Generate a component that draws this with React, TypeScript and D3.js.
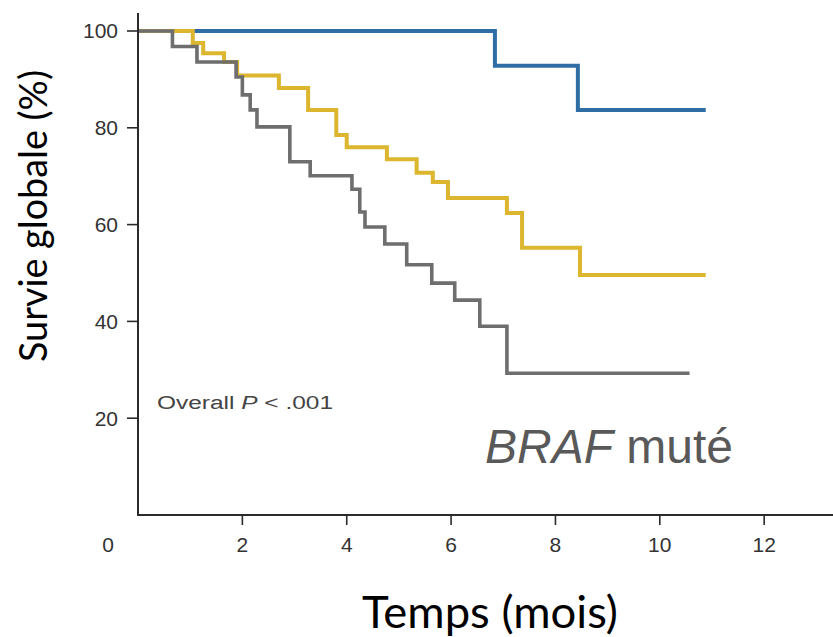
import React from "react";
import * as d3 from "d3";

// ---- data ----
const xTickValues = [2, 4, 6, 8, 10, 12];
const yTickValues = [20, 40, 60, 80, 100];

const blueTimes = [0, 6.84, 8.43, 10.88];
const blueSurvival = [100, 92.8, 83.7, 83.7];

const yellowTimes = [0, 1.05, 1.25, 1.65, 1.9, 2.7, 3.26, 3.8, 4.0, 4.77, 5.34, 5.65, 5.94, 7.07, 7.36, 8.47, 10.88];
const yellowSurvival = [100, 97.5, 95.4, 93.6, 90.8, 88.2, 83.7, 78.5, 76.0, 73.5, 70.7, 68.8, 65.5, 62.4, 55.2, 49.6, 49.6];

const grayTimes = [0, 0.66, 1.13, 1.88, 2.0, 2.15, 2.28, 2.91, 3.3, 4.1, 4.25, 4.35, 4.73, 5.15, 5.63, 6.07, 6.55, 7.07, 10.57];
const graySurvival = [100, 96.8, 93.6, 90.5, 86.8, 83.7, 80.2, 73.0, 70.1, 67.3, 62.6, 59.5, 56.0, 51.7, 47.9, 44.4, 39.0, 29.3, 29.3];

const xLabel = "Temps (mois)";
const yLabel = "Survie globale (%)";
const pText = "Overall ";
const pItalic = "P";
const pRest = " < .001";
const groupItalic = "BRAF";
const groupRest = " muté";

const W = 833;
const H = 637;

export default function App() {
  const x = d3.scaleLinear().domain([0, 13.3]).range([138, 832]);
  const y = d3.scaleLinear().domain([0, 100]).range([515, 31]);

  const line = d3
    .line<[number, number]>()
    .x((d) => x(d[0]))
    .y((d) => y(d[1]))
    .curve(d3.curveStepAfter);

  const series = [
    { t: blueTimes, s: blueSurvival, color: "#2f6ea5", w: 4 },
    { t: yellowTimes, s: yellowSurvival, color: "#dcb62e", w: 4 },
    { t: grayTimes, s: graySurvival, color: "#6e6e6e", w: 3.6 },
  ];

  const axisColor = "#2b2b2b";
  const tickFont = "'Liberation Sans', Arial, sans-serif";
  const labelFont = "Lato, 'Open Sans', sans-serif";

  return (
    <svg
      width={W}
      height={H}
      style={{ position: "absolute", left: 0, top: 0, background: "#fff" }}
    >
      <rect x={0} y={0} width={W} height={H} fill="#fff" />
      {/* curves */}
      {series.map((sr, i) => (
        <path
          key={i}
          d={line(d3.zip(sr.t, sr.s) as [number, number][]) || ""}
          fill="none"
          stroke={sr.color}
          strokeWidth={sr.w}
          strokeLinejoin="miter"
        />
      ))}
      {/* y axis */}
      <line x1={x(0)} x2={x(0)} y1={y(103.7)} y2={y(0) + 1} stroke={axisColor} strokeWidth={2} />
      {yTickValues.map((v) => (
        <g key={v}>
          <line x1={x(0) - 11} x2={x(0)} y1={y(v)} y2={y(v)} stroke={axisColor} strokeWidth={1.6} />
          <text
            x={x(0) - 20}
            y={y(v)}
            dy="0.35em"
            textAnchor="end"
            fontFamily={tickFont}
            fontSize={21}
            fill="#333"
          >
            {v}
          </text>
        </g>
      ))}
      {/* x axis */}
      <line x1={x(0)} x2={W} y1={y(0)} y2={y(0)} stroke={axisColor} strokeWidth={2} />
      {xTickValues.map((v) => (
        <g key={v}>
          <line x1={x(v)} x2={x(v)} y1={y(0)} y2={y(0) + 10} stroke={axisColor} strokeWidth={1.6} />
          <text
            x={x(v)}
            y={y(0) + 30}
            dy="0.35em"
            textAnchor="middle"
            fontFamily={tickFont}
            fontSize={21}
            fill="#333"
          >
            {v}
          </text>
        </g>
      ))}
      <text
        x={x(0) - 30}
        y={y(0) + 30}
        dy="0.35em"
        textAnchor="middle"
        fontFamily={tickFont}
        fontSize={21}
        fill="#333"
      >
        0
      </text>
      {/* p-value annotation */}
      <text
        x={157}
        y={409}
        fontFamily={tickFont}
        fontSize={18}
        fill="#444"
        textLength={176}
        lengthAdjust="spacingAndGlyphs"
      >
        {pText}
        <tspan fontStyle="italic">{pItalic}</tspan>
        {pRest}
      </text>
      {/* group label */}
      <text x={485} y={463} fontFamily="'Liberation Sans', Arial, sans-serif" fontSize={48} fill="#595959">
        <tspan fontStyle="italic">{groupItalic}</tspan>
        {groupRest}
      </text>
      {/* axis titles */}
      <text
        x={490}
        y={628}
        textAnchor="middle"
        fontFamily={labelFont}
        fontSize={44}
        fill="#000"
        textLength={256}
        lengthAdjust="spacingAndGlyphs"
      >
        {xLabel}
      </text>
      <text
        transform={`translate(47, 216) rotate(-90)`}
        textAnchor="middle"
        fontFamily={labelFont}
        fontSize={38}
        fill="#000"
        textLength={292}
        lengthAdjust="spacingAndGlyphs"
      >
        {yLabel}
      </text>
    </svg>
  );
}
